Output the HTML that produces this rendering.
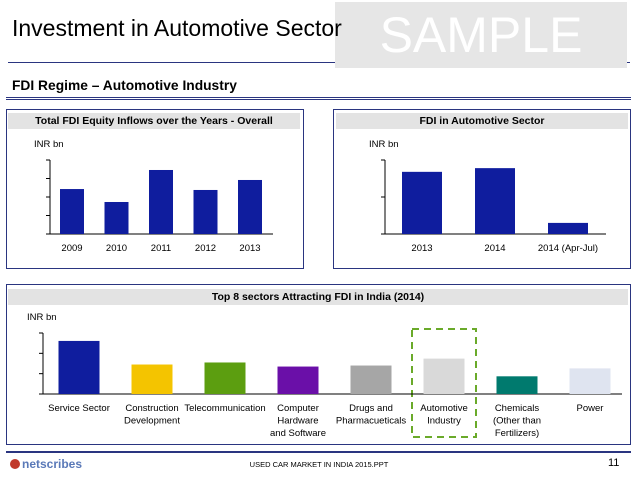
<!DOCTYPE html>
<html><head><meta charset="utf-8"><style>
body{margin:0;width:638px;height:479px;background:#fff;font-family:"Liberation Sans",sans-serif;overflow:hidden;position:relative}
.a{position:absolute}
.panel{position:absolute;border:1px solid #2a3580;box-sizing:border-box}
.tbar{position:absolute;background:#e3e3e3;font-weight:bold;font-size:10.5px;text-align:center;line-height:16px;color:#000}
svg text{font-family:"Liberation Sans",sans-serif;font-size:9.5px;fill:#000}
</style></head><body>
<div class="a" style="left:335px;top:2px;width:292px;height:66px;background:#e6e6e6;color:#fff;font-size:50px;line-height:66px;text-align:center">SAMPLE</div>
<div class="a" style="left:12px;top:15px;font-size:23px;color:#000;z-index:2">Investment in Automotive Sector</div>
<div class="a" style="left:8px;top:62px;width:327px;height:1px;background:#2a3580"></div>
<div class="a" style="left:627px;top:62px;width:3px;height:1px;background:#2a3580"></div>
<div class="a" style="left:12px;top:78px;font-size:13.8px;font-weight:bold">FDI Regime – Automotive Industry</div>
<div class="a" style="left:6px;top:97px;width:625px;height:3px;border-top:1px solid #2a3580;border-bottom:1px solid #2a3580;box-sizing:border-box"></div>

<div class="panel" style="left:6px;top:109px;width:298px;height:160px"></div>
<div class="tbar" style="left:8px;top:113px;width:292px">Total FDI Equity Inflows over the Years - Overall</div>
<div class="panel" style="left:333px;top:109px;width:298px;height:160px"></div>
<div class="tbar" style="left:336px;top:113px;width:292px">FDI in Automotive Sector</div>
<div class="panel" style="left:6px;top:284px;width:625px;height:161px"></div>
<div class="tbar" style="left:8px;top:289px;width:620px">Top 8 sectors Attracting FDI in India (2014)</div>
<div class="a" style="left:6px;top:451px;width:625px;height:2px;background:#2a3580"></div>
<div class="a" style="left:10px;top:457px;font-size:12px;font-weight:bold;color:#5a79b8"><span style="display:inline-block;width:10px;height:10px;border-radius:50%;background:#c0392b;vertical-align:-1px;margin-right:2px"></span>netscribes</div>
<div class="a" style="left:219px;top:460px;width:200px;text-align:center;font-size:7.5px">USED CAR MARKET IN INDIA 2015.PPT</div>
<div class="a" style="left:608px;top:457px;font-size:11px">11</div>

<svg class="a" style="left:0;top:0" width="638" height="479" id="charts">
<rect x="412" y="329" width="64" height="108" fill="none" stroke="#6aaa2a" stroke-width="2" stroke-dasharray="7,5"/>
</svg>
<script>
const c1Years=["2009","2010","2011","2012","2013"];
const c1Values=[243,173,346,238,292];
const c1Ticks=[0,100,200,300,400];
const c2Labels=["2013","2014","2014 (Apr-Jul)"];
const c2Values=[168,178,30];
const c2Ticks=[0,100,200];
const c3Sectors=[["Service Sector"],["Construction","Development"],["Telecommunication"],["Computer","Hardware","and Software"],["Drugs and","Pharmacueticals"],["Automotive","Industry"],["Chemicals","(Other than","Fertilizers)"],["Power"]];
const c3Values=[261,145,155,135,140,174,87,126];
const c3Colors=["#0f1d9e","#f4c400","#5c9e10","#6a0fa8","#a6a6a6","#d9d9d9","#007a6e","#dfe4f0"];
const c3Ticks=[0,100,200,300];
const svg=document.getElementById('charts');
const NS='http://www.w3.org/2000/svg';
function mk(t,a){const e=document.createElementNS(NS,t);for(const k in a)e.setAttribute(k,a[k]);svg.appendChild(e);return e;}
function txt(x,y,s,anchor){const e=mk('text',{x:x,y:y,'text-anchor':anchor||'middle'});e.textContent=s;return e;}
function chart(o){
  const y=v=>o.base-(v/o.max)*(o.base-o.top);
  const ax=mk('line',{x1:o.ax,y1:o.top,x2:o.ax,y2:o.base,stroke:'#000','stroke-width':1});
  
  const bx=mk('line',{x1:o.ax,y1:o.base,x2:o.xend,y2:o.base,stroke:'#000','stroke-width':1});
  
  o.ticks.forEach(t=>{const l=mk('line',{x1:o.ax-4,x2:o.ax,y1:y(t),y2:y(t),stroke:'#000'});
    });
  const u=txt(o.ax-16,o.top-13,'INR bn','start');
  
  o.values.forEach((v,i)=>{const cx=o.x0+i*o.step;
    const r=mk('rect',{x:cx-o.bw/2,y:y(v),width:o.bw,height:o.base-y(v),fill:o.colors?o.colors[i]:'#0f1d9e'});
    
    const lab=[].concat(o.labels[i]);
    lab.forEach((s,j)=>{const t=txt(cx,o.base+17+j*12.5,s);
      });
  });
}
chart({id:'total-fdi',ax:50,top:160,base:234,xend:273,max:400,ticks:c1Ticks,values:c1Values,labels:c1Years,x0:72,step:44.5,bw:24});
chart({id:'auto-fdi',ax:385,top:160,base:234,xend:606,max:200,ticks:c2Ticks,values:c2Values,labels:c2Labels,x0:422,step:73,bw:40});
chart({id:'top-sectors',ax:43,top:333,base:394,xend:622,max:300,ticks:c3Ticks,values:c3Values,labels:c3Sectors,colors:c3Colors,x0:79,step:73,bw:41});
</script>
</body></html>
